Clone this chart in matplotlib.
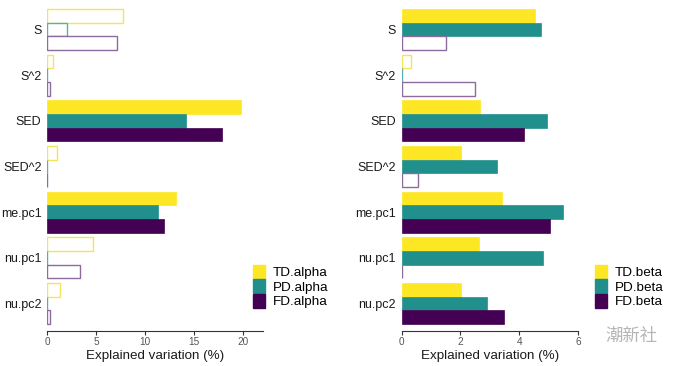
import matplotlib
matplotlib.use("Agg")
import matplotlib.pyplot as plt
import numpy as np
from matplotlib.patches import Patch

plt.rcParams['font.family'] = ['Liberation Sans', 'DejaVu Sans']

categories = ["S", "S^2", "SED", "SED^2", "me.pc1", "nu.pc1", "nu.pc2"]

# Left panel (alpha diversity)
td_alpha = [7.75, 0.65, 19.8, 1.0, 13.15, 4.7, 1.35]
pd_alpha = [2.0, 0.05, 14.15, 0.05, 11.3, 0.05, 0.05]
fd_alpha = [7.13, 0.35, 17.9, 0.05, 11.9, 3.4, 0.28]
td_alpha_sig = [False, False, True, False, True, False, False]
pd_alpha_sig = [False, False, True, False, True, False, False]
fd_alpha_sig = [False, False, True, False, True, False, False]

# Right panel (beta diversity)
td_beta = [4.52, 0.31, 2.67, 2.01, 3.41, 2.64, 2.02]
pd_beta = [4.75, 0.02, 4.93, 3.24, 5.48, 4.82, 2.90]
fd_beta = [1.52, 2.50, 4.17, 0.54, 5.06, 0.02, 3.49]
td_beta_sig = [True, False, True, True, True, True, True]
pd_beta_sig = [True, False, True, True, True, True, True]
fd_beta_sig = [False, False, True, False, True, False, True]

colors = ["#FDE725", "#21908C", "#440154"]
outline_colors = ["#F5E35A", "#5AAFAB", "#8E6A9E"]

fig = plt.figure(figsize=(6.8, 3.66), dpi=100)
bottom = (366 - 331) / 366
top = (366 - 2) / 366
ax1 = fig.add_axes([47 / 680, bottom, (262.5 - 47) / 680, top - bottom])
ax2 = fig.add_axes([401.7 / 680, bottom, (578 - 401.7) / 680, top - bottom])


def draw(ax, series, sigs, xmax, xticks):
    n = len(categories)
    ypos = np.arange(n)[::-1]  # first category at top
    bh = 0.3
    offsets = [bh, 0.0, -bh]
    for vals, sig, col, ocol, off in zip(series, sigs, colors, outline_colors, offsets):
        for y, v, s in zip(ypos, vals, sig):
            if s:
                ax.barh(y + off, v, height=bh, color=col, edgecolor=col, linewidth=0.5)
            else:
                ax.barh(y + off, v, height=bh, facecolor="white", edgecolor=ocol, linewidth=1.0)
    ax.set_yticks(ypos)
    ax.set_yticklabels(categories, fontsize=9, color="#1a1a1a")
    ax.set_ylim(-0.6, n - 1 + 0.6)
    ax.set_xlim(0, xmax)
    ax.set_xticks(xticks)
    ax.set_xticklabels([str(t) for t in xticks], fontsize=7.2, color="#555555")
    ax.tick_params(axis="y", length=0, pad=4)
    ax.tick_params(axis="x", length=3, width=0.8, color="#333333", pad=1.5)
    for side in ["top", "right", "left"]:
        ax.spines[side].set_visible(False)
    ax.spines["bottom"].set_linewidth(0.8)
    ax.spines["bottom"].set_color("#333333")
    ax.set_xlabel("Explained variation (%)", fontsize=9.6, color="#1a1a1a", labelpad=2)
    return [Patch(facecolor=c, edgecolor=c) for c in colors]


h1 = draw(ax1, [td_alpha, pd_alpha, fd_alpha], [td_alpha_sig, pd_alpha_sig, fd_alpha_sig],
          22, [0, 5, 10, 15, 20])
h2 = draw(ax2, [td_beta, pd_beta, fd_beta], [td_beta_sig, pd_beta_sig, fd_beta_sig],
          6, [0, 2, 4, 6])

leg_kw = dict(frameon=False, fontsize=9.7, handlelength=0.9, handleheight=1.2,
              handletextpad=0.55, labelspacing=0.0, borderpad=0, borderaxespad=0)
fig.legend(h1, ["TD.alpha", "PD.alpha", "FD.alpha"], loc="upper left",
           bbox_to_anchor=(253 / 680, 1 - 265 / 366), **leg_kw)
fig.legend(h2, ["TD.beta", "PD.beta", "FD.beta"], loc="upper left",
           bbox_to_anchor=(595 / 680, 1 - 265 / 366), **leg_kw)

fig.text(605 / 680, 1 - 336 / 366, "潮新社", fontsize=12.5, color="#b5b5b5",
         family=["Noto Sans CJK SC", "DejaVu Sans"], ha="left", va="center")

fig.savefig("out.png", dpi=100)
